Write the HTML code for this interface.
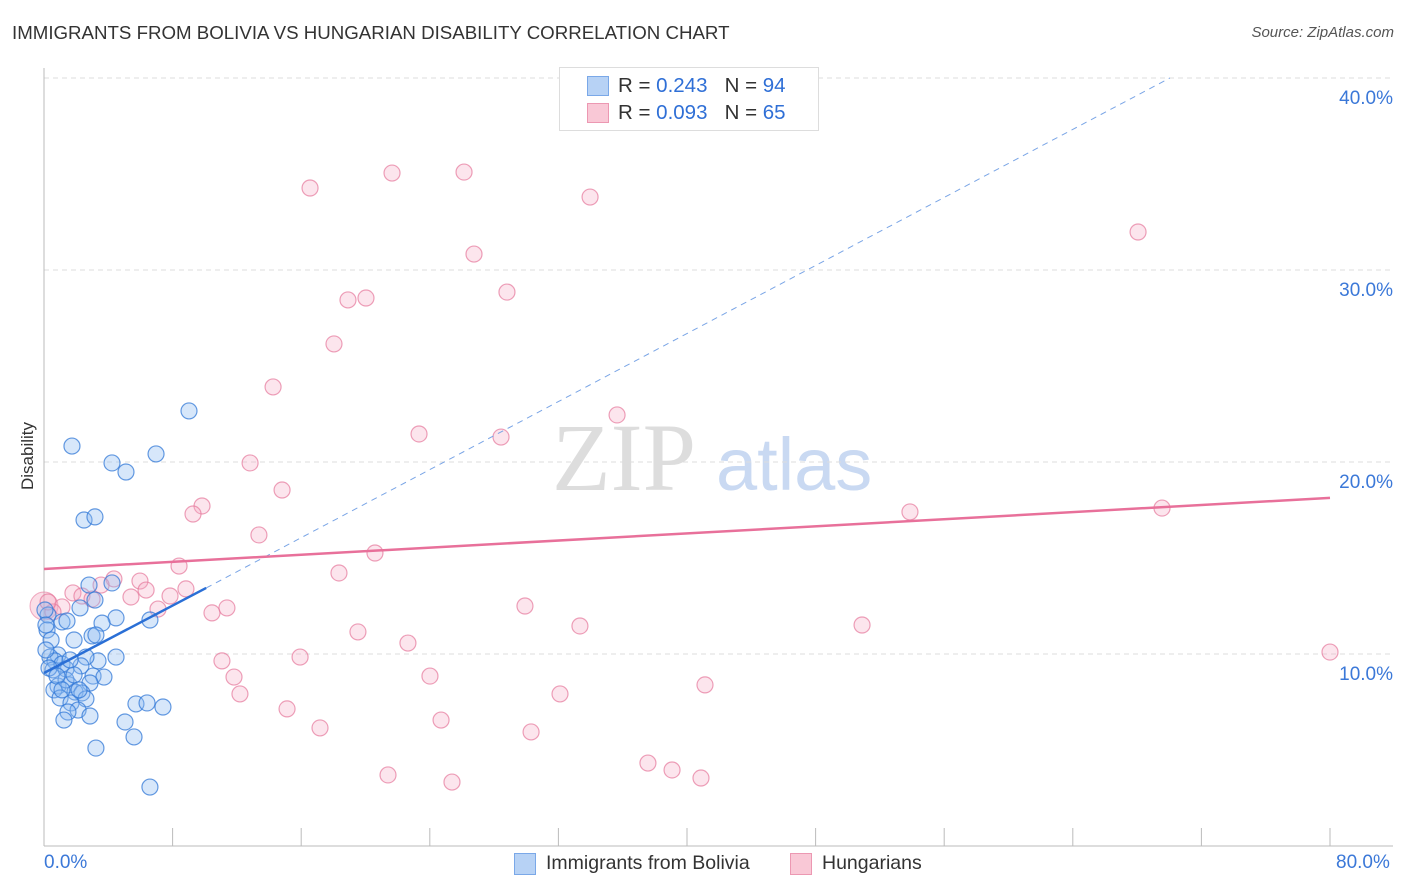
<!DOCTYPE html>
<html><head><meta charset="utf-8"><style>
body{margin:0;background:#fff;font-family:"Liberation Sans",sans-serif;}
#wrap{position:relative;width:1406px;height:892px;overflow:hidden}
.t{position:absolute;white-space:nowrap}
</style></head><body>
<div id="wrap">
<div class="t" style="left:12px;top:22px;font-size:18.7px;color:#333">IMMIGRANTS FROM BOLIVIA VS HUNGARIAN DISABILITY CORRELATION CHART</div>
<div class="t" style="right:12px;top:24px;font-size:15px;color:#555;font-style:italic">Source: ZipAtlas.com</div>
<svg id="svg" width="1406" height="892" style="position:absolute;left:0;top:0"></svg>
</div>
<script>
const blueX=[1.74,4.23,5.10,6.97,9.02,2.49,3.17,2.80,2.24,4.23,3.17,4.48,6.59,3.61,1.12,1.43,0.25,0.19,0.44,1.87,2.99,3.23,4.48,3.36,2.61,0.87,0.37,0.68,0.56,1.12,1.37,2.30,3.05,3.73,2.86,0.87,1.56,1.93,2.36,0.62,1.37,1.00,1.68,2.61,2.12,1.49,2.86,1.24,5.04,5.72,6.41,7.40,5.60,3.23,6.59,0.06,0.12,0.12,0.31,0.81,1.12,1.87,2.18,1.62];
const blueY=[20.83,19.95,19.48,20.42,22.66,16.98,17.14,13.59,12.40,13.70,12.81,11.88,11.77,11.61,11.67,11.72,12.03,11.25,10.73,10.73,10.94,10.99,9.84,9.64,9.84,9.95,9.84,9.64,9.17,9.48,9.22,9.38,8.85,8.80,8.49,8.33,8.39,8.02,7.97,8.13,8.65,7.71,7.45,7.66,7.08,6.98,6.77,6.56,6.46,7.40,7.45,7.24,5.68,5.10,3.07,12.29,11.51,10.21,9.27,8.85,8.13,8.91,8.13,9.69];
const pinkX=[16.55,21.65,26.13,33.97,26.75,28.80,18.91,20.03,18.04,14.25,35.65,23.33,28.43,12.82,14.81,9.83,9.27,13.37,20.59,8.40,18.35,4.35,5.97,3.55,6.35,5.41,1.80,2.36,2.99,8.83,7.84,1.12,7.09,10.45,11.38,0.56,0.25,29.92,33.34,19.53,22.64,15.93,11.07,11.82,24.01,12.19,15.12,24.70,32.10,41.12,17.17,30.30,21.40,25.38,37.57,39.07,40.87,53.87,69.55,50.89,68.06,80.00];
const pinkY=[34.27,35.05,35.10,33.80,30.83,28.85,28.44,28.54,26.15,23.91,22.45,21.46,21.30,19.95,18.54,17.71,17.29,16.20,15.26,14.58,14.22,13.91,13.80,13.59,13.33,12.97,13.18,13.02,12.86,13.39,13.02,12.45,12.34,12.14,12.40,12.19,12.71,12.50,11.46,11.15,10.57,9.84,9.64,8.80,8.85,7.92,7.14,6.56,7.92,8.39,6.15,5.94,3.70,3.33,4.32,3.96,3.54,17.40,17.60,11.51,31.98,10.10];
const yTicks=[10,20,30,40];
const yTickLabels=["10.0%","20.0%","30.0%","40.0%"];
const xTicks=[0,8,16,24,32,40,48,56,64,72,80];
const blueTrend=[[0,9.01],[10.09,13.44]];
const blueDash=[[10.09,13.44],[70.04,40]];
const pinkTrend=[[0,14.43],[80,18.13]];

const NS="http://www.w3.org/2000/svg";
const svg=document.getElementById('svg');
const X=v=>44+v*16.075, Y=v=>846-v*19.2;
function mk(t,a,p){const e=document.createElementNS(NS,t);for(const k in a)e.setAttribute(k,a[k]);(p||svg).appendChild(e);return e;}
let wm=mk('text',{x:552,y:490,'font-size':96,fill:'#ddd','font-family':'Liberation Serif, serif'});wm.textContent='ZIP';


let wm2=mk('text',{x:716,y:490,'font-size':74,fill:'#c9d9f2','font-family':'Liberation Sans, sans-serif'});wm2.textContent='atlas';


yTicks.forEach((v,i)=>{
 const g=mk('line',{x1:44,x2:1393,y1:Y(v),y2:Y(v),stroke:'#ddd','stroke-dasharray':'5,4'});
 
 
 const t=mk('text',{x:1393,y:Y(v)+26,'text-anchor':'end','font-size':19,fill:'#3b78d8'});t.textContent=yTickLabels[i];
 
 
});
mk('line',{x1:44,x2:44,y1:68,y2:846,stroke:'#bbb'});
mk('line',{x1:44,x2:1393,y1:846,y2:846,stroke:'#bbb'});
xTicks.forEach(v=>{const l=mk('line',{x1:X(v),x2:X(v),y1:828,y2:846,stroke:'#bbb'});
 
 });
function dot(x,y,fill,stroke,name){const c=mk('circle',{cx:X(x),cy:Y(y),r:8,fill:fill,stroke:stroke,'stroke-width':1.2});
 
 }
const big=mk('circle',{cx:X(0),cy:Y(12.5),r:14,fill:'rgba(244,160,185,0.35)',stroke:'rgba(230,120,155,0.6)'});


pinkX.forEach((x,i)=>dot(x,pinkY[i],'rgba(244,170,195,0.3)','rgba(230,120,155,0.7)','hungarian-point'));
blueX.forEach((x,i)=>dot(x,blueY[i],'rgba(140,185,240,0.35)','rgba(50,120,215,0.75)','bolivia-point'));
const bd=mk('line',{x1:X(blueDash[0][0]),y1:Y(blueDash[0][1]),x2:X(blueDash[1][0]),y2:Y(blueDash[1][1]),stroke:'#7aa5e6','stroke-width':1,'stroke-dasharray':'6,5'});


const bt=mk('line',{x1:X(blueTrend[0][0]),y1:Y(blueTrend[0][1]),x2:X(blueTrend[1][0]),y2:Y(blueTrend[1][1]),stroke:'#2a6fd6','stroke-width':2.5});


const pt=mk('line',{x1:X(pinkTrend[0][0]),y1:Y(pinkTrend[0][1]),x2:X(pinkTrend[1][0]),y2:Y(pinkTrend[1][1]),stroke:'#e8709a','stroke-width':2.5});


</script>
<div class="t" style="left:18px;top:456px;transform:translate(-50%,-50%) rotate(-90deg);transform-origin:center;font-size:17px;color:#333;margin-left:10px">Disability</div>
<div class="t" style="left:44px;top:852px;font-size:19px;color:#3b78d8">0.0%</div>
<div class="t" style="left:1336px;top:852px;font-size:19px;color:#3b78d8">80.0%</div>
<div class="t" style="left:559px;top:67px;width:258px;height:62px;border:1px solid #ddd;background:#fff;font-size:20.5px">
 <div style="position:absolute;left:27px;top:8px;width:20px;height:18px;background:#b7d2f5;border:1px solid #7aa8e8"></div>
 <div style="position:absolute;left:58px;top:6px;color:#333">R = <span style="color:#2f6fd6">0.243</span>&nbsp;&nbsp;&nbsp;N = <span style="color:#2f6fd6">94</span></div>
 <div style="position:absolute;left:27px;top:35px;width:20px;height:18px;background:#f9c8d6;border:1px solid #ec98b2"></div>
 <div style="position:absolute;left:58px;top:33px;color:#333">R = <span style="color:#2f6fd6">0.093</span>&nbsp;&nbsp;&nbsp;N = <span style="color:#2f6fd6">65</span></div>
</div>
<div class="t" style="left:514px;top:853px;width:20px;height:20px;background:#b7d2f5;border:1px solid #7aa8e8"></div>
<div class="t" style="left:546px;top:852px;font-size:19.5px;color:#333">Immigrants from Bolivia</div>
<div class="t" style="left:790px;top:853px;width:20px;height:20px;background:#f9c8d6;border:1px solid #ec98b2"></div>
<div class="t" style="left:822px;top:852px;font-size:19.5px;color:#333">Hungarians</div>
</body></html>
